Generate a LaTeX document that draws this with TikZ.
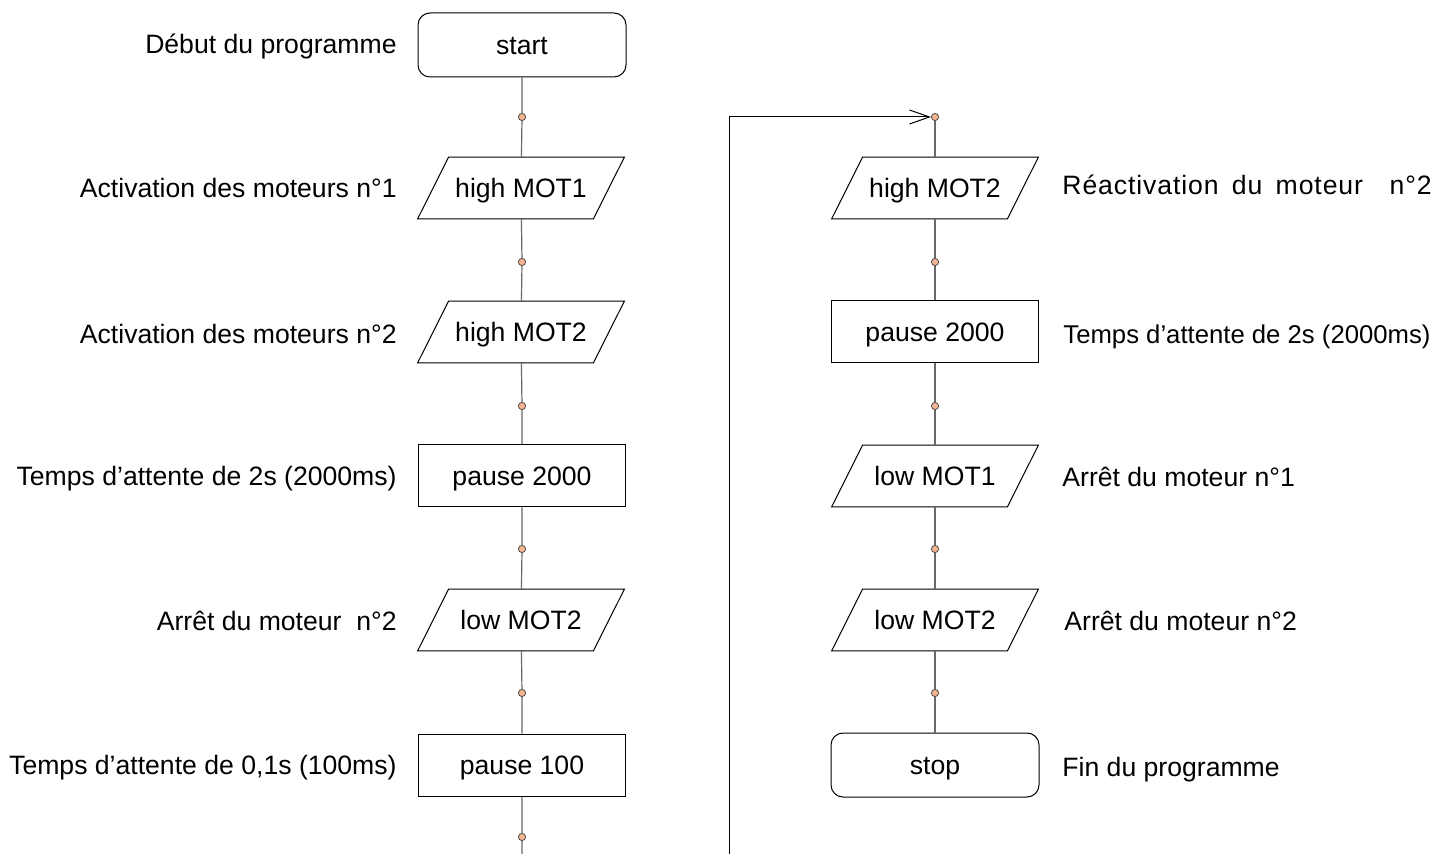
\documentclass[tikz,border=0pt]{standalone}
\usepackage{fontspec}
\setmainfont{Liberation Sans}
\newfontfamily\widefont[LetterSpace=3.4,WordSpace=1.6]{Liberation Sans}
\usetikzlibrary{arrows.meta,positioning,shapes.geometric}
\definecolor{cline}{RGB}{105,105,105}
\definecolor{cdot}{RGB}{247,180,145}
\tikzset{
  txt/.style={font=\fontsize{13.3}{16}\selectfont, inner sep=0pt, text height=10.5pt, text depth=1pt},
  termbox/.style={draw, rounded corners=6pt, minimum width=104pt, minimum height=32pt,
                  line width=0.5pt, txt},
  actbox/.style={draw, rectangle, minimum width=103.5pt, minimum height=31pt,
                 line width=0.5pt, txt},
  iobox/.style={rectangle, minimum width=103pt, minimum height=30.5pt, txt,
                append after command={\pgfextra{\draw[line width=0.5pt]
                  (\tikzlastnode.south west) -- ([xshift=15.5pt]\tikzlastnode.north west)
                  -- (\tikzlastnode.north east) -- ([xshift=-15.5pt]\tikzlastnode.south east)
                  -- cycle;}}},
  joint/.style={draw=black!70, fill=cdot, circle, inner sep=0pt, minimum size=3.6pt, line width=0.4pt},
  link/.style={draw=cline, line width=0.6pt},
}
\begin{document}
\begin{tikzpicture}[x=0.5pt, y=-0.5pt]
    \useasboundingbox (0,0) rectangle (1434,854);
    % left column
    \node[termbox] (s) at (522,45) {start};
    \node[iobox] (a1) at (521,188) {high MOT1};
    \node[iobox] (a2) at (521,332) {high MOT2};
    \node[actbox] (w1) at (522,476) {pause 2000};
    \node[iobox] (o2) at (521,620) {low MOT2};
    \node[actbox] (w2) at (522,765) {pause 100};
    \foreach \n/\y in {1/117,2/262,3/406,4/549,5/693,6/837}
      \node[joint] (j\n) at (522,\y) {};
    \coordinate (jend) at (522,854);
    % right column
    \node[iobox] (b1) at (935,188) {high MOT2};
    \node[actbox] (v1) at (935,332) {pause 2000};
    \node[iobox] (c1) at (935,476) {low MOT1};
    \node[iobox] (c2) at (935,620) {low MOT2};
    \node[termbox] (e) at (935,765) {stop};
    \foreach \n/\y in {0/117,1/262,2/406,3/549,4/693}
      \node[joint] (k\n) at (935,\y) {};
    \coordinate (lb) at (729,854);
    \coordinate (lt) at (729,117);
    % connectors
    \path[link] (s) -- (j1) -- (a1) -- (j2) -- (a2) -- (j3) -- (w1) -- (j4) -- (o2)
                -- (j5) -- (w2) -- (j6) -- (jend);
    \path[link] (k0) -- (b1) -- (k1) -- (v1) -- (k2) -- (c1) -- (k3) -- (c2) -- (k4) -- (e);
    \draw[line width=0.5pt, -{Straight Barb[length=10pt,width=7pt]}] (lb) -- (lt) -- (k0.west);
    % comments
    \node[txt, anchor=east] (t1) at (397,44) {Début du programme};
    \node[txt, anchor=east] (t2) at (397,188) {Activation des moteurs n°1};
    \node[txt, anchor=east] (t3) at (397,334) {Activation des moteurs n°2};
    \node[txt, anchor=east] (t4) at (397,476) {Temps d’attente de 2s (2000ms)};
    \node[txt, anchor=east] (t5) at (397,621) {Arrêt du moteur \ n°2};
    \node[txt, anchor=east] (t6) at (397,765) {Temps d’attente de 0,1s (100ms)};
    \node[txt, anchor=west] (u1) at (1062,185) {\widefont Réactivation du moteur \ n°2};
    \node[txt, anchor=west, font=\fontsize{12.85}{16}\selectfont] (u2) at (1063,334)
         {Temps d’attente de 2s (2000ms)};
    \node[txt, anchor=west] (u3) at (1062,477) {Arrêt du moteur n°1};
    \node[txt, anchor=west] (u4) at (1064,621) {Arrêt du moteur n°2};
    \node[txt, anchor=west] (u5) at (1062,767) {Fin du programme};
\end{tikzpicture}
\end{document}
